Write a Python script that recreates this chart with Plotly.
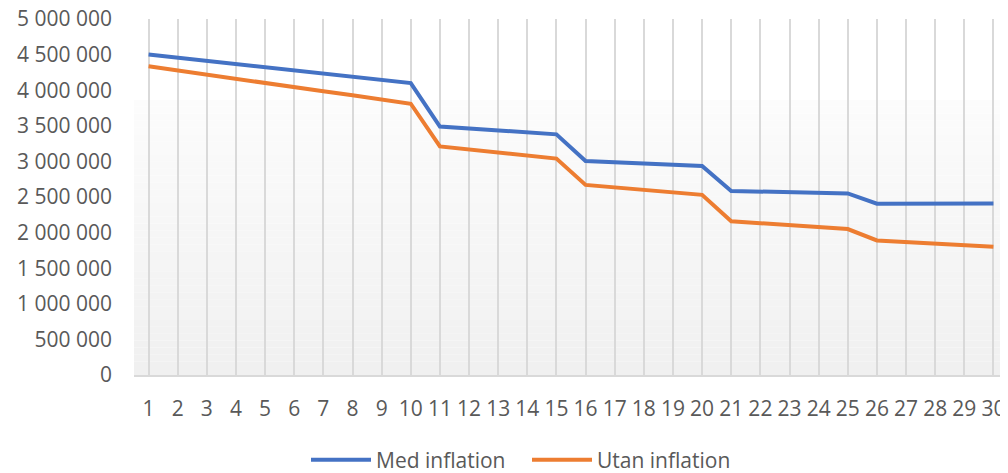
import plotly.graph_objects as go

years = list(range(1, 31))
med_inflation = [4500000, 4455000, 4410000, 4365000, 4320000, 4275000, 4230000, 4190000, 4145000, 4100000,
                 3490000, 3460000, 3435000, 3410000, 3380000,
                 3005000, 2990000, 2970000, 2955000, 2935000,
                 2585000, 2575000, 2570000, 2560000, 2550000,
                 2405000, 2405000, 2405000, 2405000, 2410000]
utan_inflation = [4335000, 4275000, 4220000, 4160000, 4100000, 4045000, 3985000, 3930000, 3870000, 3810000,
                  3210000, 3165000, 3120000, 3080000, 3040000,
                  2670000, 2635000, 2600000, 2565000, 2530000,
                  2160000, 2130000, 2105000, 2080000, 2050000,
                  1890000, 1870000, 1845000, 1820000, 1800000]
y_ticks = list(range(0, 5000001, 500000))

FONT = "Open Sans"
GRAY = "#595959"

fig = go.Figure()
fig.add_trace(go.Scatter(x=years, y=med_inflation, name="Med inflation", mode="lines",
                         line=dict(color="#4472C4", width=4)))
fig.add_trace(go.Scatter(x=years, y=utan_inflation, name="Utan inflation", mode="lines",
                         line=dict(color="#ED7D31", width=4)))

# gradient background of the plot area (white at top, light gray at bottom)
shapes = []
n = 40
top = 0.7725
for i in range(n):
    y0 = top * i / n
    y1 = top * (i + 1) / n
    t = (i + 0.5) / n
    c = round(240 + (252 - 240) * t)
    shapes.append(dict(type="rect", xref="x domain", yref="y domain", x0=0, x1=1, y0=y0, y1=y1,
                       fillcolor=f"rgb({c},{c},{c})", line=dict(width=0), layer="below"))

fig.update_layout(
    width=1000, height=465,
    margin=dict(l=126, r=0, t=11, b=98, autoexpand=False),
    paper_bgcolor="white", plot_bgcolor="white",
    separators=", ",
    font=dict(family=FONT, size=21, color=GRAY),
    shapes=shapes,
    showlegend=True,
    legend=dict(orientation="h", xref="container", yref="paper", x=0.519, y=-0.239,
                xanchor="center", yanchor="middle", font=dict(size=21, color=GRAY),
                itemwidth=60, entrywidth=146, bgcolor="rgba(0,0,0,0)"),
    xaxis=dict(range=[0.5, 30.5], tickmode="array", tickvals=years, ticktext=[str(v) for v in years],
               showgrid=True, gridcolor="#d9d9d9", gridwidth=1.5,
               showline=True, linecolor="#d9d9d9", linewidth=1.5, automargin=False,
               ticks="", zeroline=False, ticklabelstandoff=14, ticklabeloverflow="allow",
               tickfont=dict(family=FONT, size=21, color=GRAY), fixedrange=True),
    yaxis=dict(range=[0, 5000000], tickmode="array", tickvals=y_ticks, tickformat=",d",
               showgrid=False, zeroline=False, showline=False, ticks="", automargin=False,
               ticklabelstandoff=21, ticklabeloverflow="allow",
               tickfont=dict(family=FONT, size=21, color=GRAY), fixedrange=True),
)

fig.write_html("out.html")
